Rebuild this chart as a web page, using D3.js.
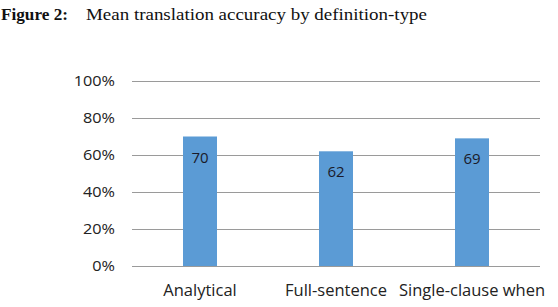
<!DOCTYPE html>
<html>
<head>
<meta charset="utf-8">
<script src="https://cdn.jsdelivr.net/npm/d3@7"></script>
<style>
  body { margin: 0; background: #fff; }
  svg { display: block; }
</style>
</head>
<body>
<svg id="chart" width="558" height="307"></svg>
<script>
/* ======================= DATA ======================= */
const categories = ["Analytical", "Full-sentence", "Single-clause when"];
const accuracy   = [70, 62, 69];
const yTicks     = [0, 20, 40, 60, 80, 100];

/* ====================== LAYOUT ====================== */
const svg = d3.select("#chart");
const plot = { left: 132, right: 540, top: 81, bottom: 266 };

const x = d3.scaleBand()
            .domain(categories)
            .range([plot.left, plot.right])
            .paddingInner(0.75)
            .paddingOuter(0.375);

const y = d3.scaleLinear()
            .domain([0, 100])
            .range([plot.bottom, plot.top]);

/* ======================= TITLE ====================== */
svg.append("text")
   .attr("x", 1)
   .attr("y", 20)
   .attr("font-family", "Liberation Serif, serif")
   .attr("font-weight", "bold")
   .attr("font-size", 16)
   .attr("textLength", 67)
   .attr("lengthAdjust", "spacingAndGlyphs")
   .attr("fill", "#111")
   .text("Figure 2:");

svg.append("text")
   .attr("x", 86)
   .attr("y", 20)
   .attr("font-family", "Liberation Serif, serif")
   .attr("font-size", 16)
   .attr("textLength", 341)
   .attr("lengthAdjust", "spacingAndGlyphs")
   .attr("fill", "#111")
   .text("Mean translation accuracy by definition-type");

/* ====================== GRID ======================== */
svg.append("g")
   .selectAll("line")
   .data(yTicks)
   .join("line")
   .attr("x1", plot.left)
   .attr("x2", plot.right)
   .attr("y1", d => Math.round(y(d)) + 0.5)
   .attr("y2", d => Math.round(y(d)) + 0.5)
   .attr("stroke", "#9a9a9a")
   .attr("stroke-width", 1);

/* ====================== Y AXIS ====================== */
const yAxis = svg.append("g")
                 .attr("transform", `translate(${plot.left - 17},0)`)
                 .call(d3.axisLeft(y).tickValues(yTicks).tickSize(0).tickPadding(0).tickFormat(d => d + "%"));
yAxis.select(".domain").remove();
yAxis.selectAll("text")
     .attr("font-family", "Open Sans, sans-serif")
     .attr("font-size", 14.5)
     .attr("fill", "#222")
     .each(function() {
         const w = this.getComputedTextLength();
         d3.select(this).attr("textLength", w * 1.12).attr("lengthAdjust", "spacingAndGlyphs");
     });

/* ======================= BARS ======================= */
svg.append("g")
   .selectAll("rect")
   .data(accuracy)
   .join("rect")
   .attr("x", (d, i) => x(categories[i]))
   .attr("y", d => y(d))
   .attr("width", x.bandwidth())
   .attr("height", d => y(0) - y(d))
   .attr("fill", "#5b9bd5");

svg.append("g")
   .selectAll("text")
   .data(accuracy)
   .join("text")
   .attr("x", (d, i) => x(categories[i]) + x.bandwidth() / 2)
   .attr("y", d => y(d) + 26)
   .attr("text-anchor", "middle")
   .attr("font-family", "Open Sans, sans-serif")
   .attr("font-size", 15)
   .attr("fill", "#1a1a2a")
   .text(d => d);

/* ====================== X AXIS ====================== */
svg.append("g")
   .selectAll("text")
   .data(categories)
   .join("text")
   .attr("x", d => x(d) + x.bandwidth() / 2)
   .attr("y", 296)
   .attr("text-anchor", "middle")
   .attr("font-family", "Open Sans, sans-serif")
   .attr("font-size", 16.5)
   .attr("fill", "#222")
   .text(d => d);
</script>
</body>
</html>
